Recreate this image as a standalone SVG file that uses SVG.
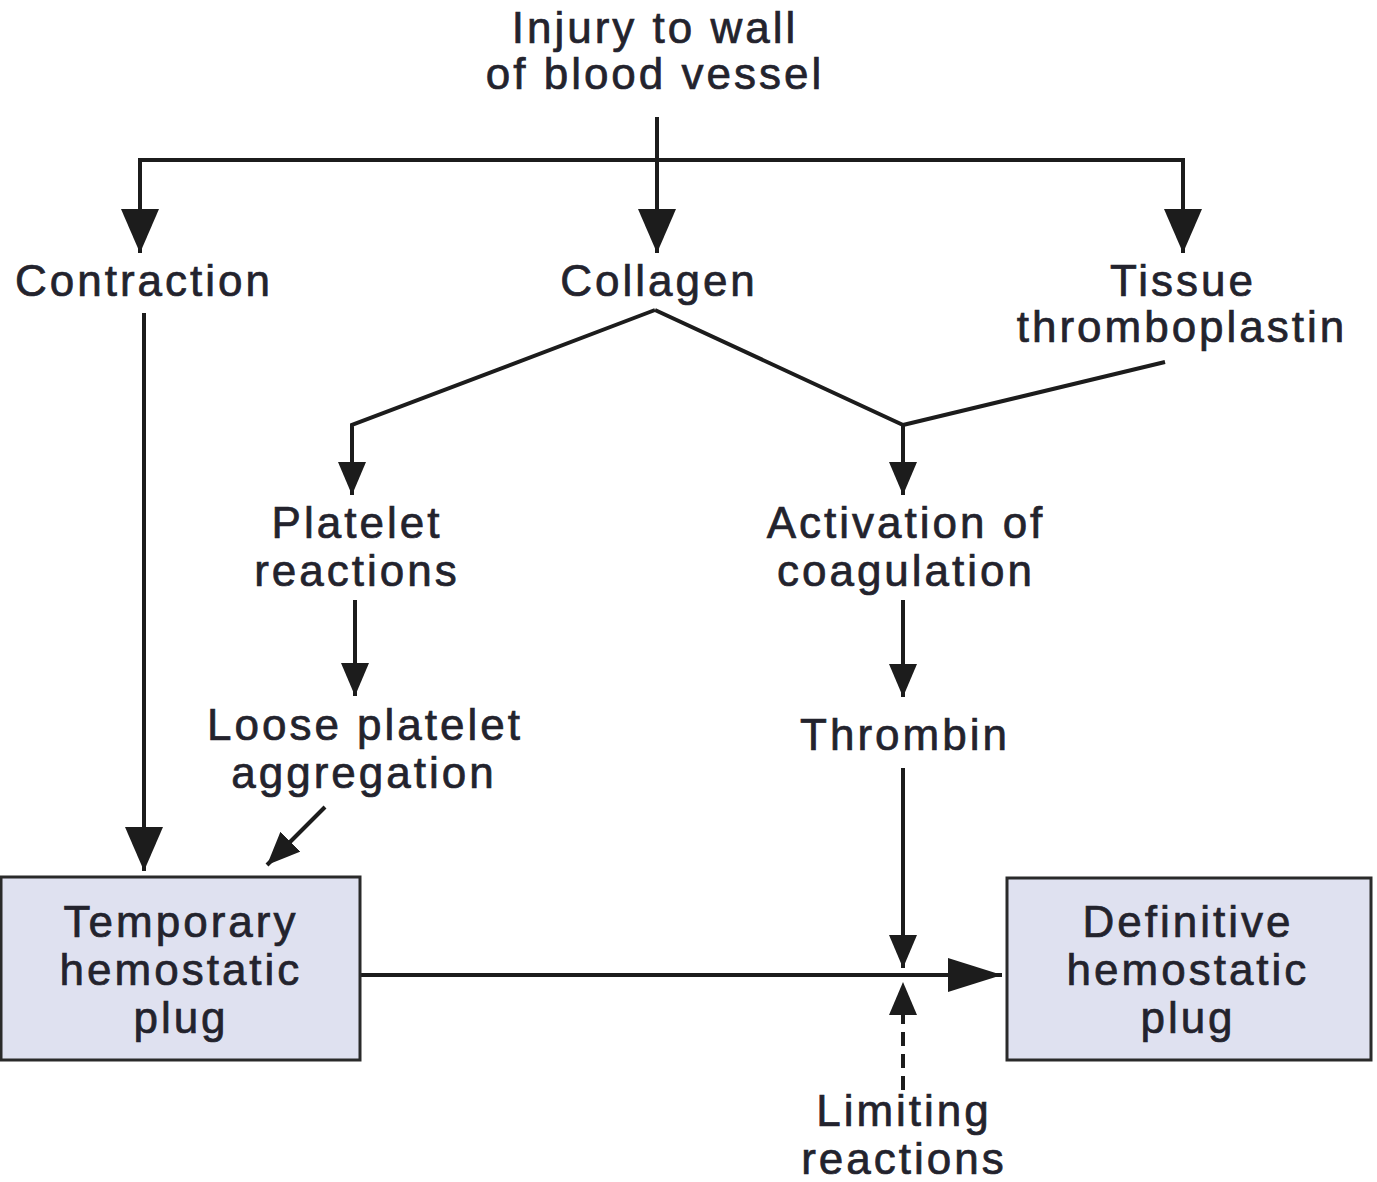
<svg xmlns="http://www.w3.org/2000/svg" width="1377" height="1182" viewBox="0 0 1377 1182">
<style>
  .t{font-family:"Liberation Sans",Arial,sans-serif;font-size:44px;fill:#23232d;stroke:#23232d;stroke-width:0.7px;text-anchor:middle;letter-spacing:3px}
  .ln{stroke:#1c1c1c;stroke-width:4;fill:none}
  .dash{stroke-dasharray:14 8}
  .box{fill:#dfe1f0;stroke:#2a2a2a;stroke-width:3}
</style>
<defs>
  <marker id="ahL" markerUnits="userSpaceOnUse" markerWidth="44" markerHeight="38" refX="44" refY="19" orient="auto">
    <path d="M0,0 L44,19 L0,38 z" fill="#1c1c1c"/>
  </marker>
  <marker id="ahM" markerUnits="userSpaceOnUse" markerWidth="33" markerHeight="28" refX="33" refY="14" orient="auto">
    <path d="M0,0 L33,14 L0,28 z" fill="#1c1c1c"/>
  </marker>
  <marker id="ahW" markerUnits="userSpaceOnUse" markerWidth="54" markerHeight="34" refX="54" refY="17" orient="auto">
    <path d="M0,0 L54,17 L0,34 z" fill="#1c1c1c"/>
  </marker>
</defs>
<rect width="1377" height="1182" fill="#ffffff"/>

<g id="connectors">
  <line class="ln" x1="657" y1="117" x2="657" y2="253" marker-end="url(#ahL)"/>
  <polyline class="ln" points="657,160 140,160 140,253" marker-end="url(#ahL)"/>
  <polyline class="ln" points="657,160 1183,160 1183,253" marker-end="url(#ahL)"/>
  <line class="ln" x1="144" y1="313" x2="144" y2="871" marker-end="url(#ahL)"/>
  <polyline class="ln" points="655,310 352,425 352,495" marker-end="url(#ahM)"/>
  <polyline class="ln" points="655,310 903,425 903,495" marker-end="url(#ahM)"/>
  <line class="ln" x1="1165" y1="362" x2="903" y2="425"/>
  <line class="ln" x1="355" y1="600" x2="355" y2="696" marker-end="url(#ahM)"/>
  <line class="ln" x1="903" y1="600" x2="903" y2="697" marker-end="url(#ahM)"/>
  <line class="ln" x1="325" y1="807" x2="267" y2="865" marker-end="url(#ahM)"/>
  <line class="ln" x1="903" y1="768" x2="903" y2="968" marker-end="url(#ahM)"/>
  <line class="ln" x1="360" y1="975" x2="1002" y2="975" marker-end="url(#ahW)"/>
  <line class="ln dash" x1="903" y1="1090" x2="903" y2="982" marker-end="url(#ahM)"/>
</g>

<g id="injury"><text class="t" x="655" y="43">Injury to wall</text><text class="t" x="655" y="89">of blood vessel</text></g>
<g id="contraction"><text class="t" x="144" y="296">Contraction</text></g>
<g id="collagen"><text class="t" x="659" y="296">Collagen</text></g>
<g id="tissue"><text class="t" x="1183" y="296">Tissue</text><text class="t" x="1182" y="342">thromboplastin</text></g>
<g id="platelet"><text class="t" x="357" y="538">Platelet</text><text class="t" x="357" y="586">reactions</text></g>
<g id="activation"><text class="t" x="906" y="538">Activation of</text><text class="t" x="906" y="586">coagulation</text></g>
<g id="loose"><text class="t" x="365" y="740">Loose platelet</text><text class="t" x="364" y="788">aggregation</text></g>
<g id="thrombin"><text class="t" x="905" y="750">Thrombin</text></g>
<g id="temporary"><rect class="box" x="1" y="877" width="359" height="183"/><text class="t" x="181" y="937">Temporary</text><text class="t" x="181" y="985">hemostatic</text><text class="t" x="181" y="1033">plug</text></g>
<g id="definitive"><rect class="box" x="1007" y="878" width="364" height="182"/><text class="t" x="1188" y="937">Definitive</text><text class="t" x="1188" y="985">hemostatic</text><text class="t" x="1188" y="1033">plug</text></g>
<g id="limiting"><text class="t" x="904" y="1126">Limiting</text><text class="t" x="904" y="1174">reactions</text></g>
</svg>
